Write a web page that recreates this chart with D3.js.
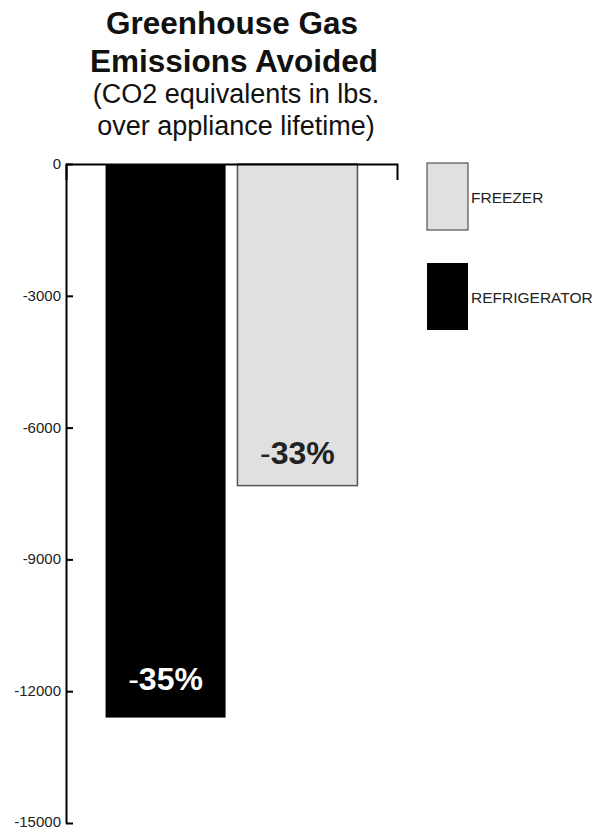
<!DOCTYPE html>
<html>
<head>
<meta charset="utf-8">
<script src="https://cdn.jsdelivr.net/npm/d3@7"></script>
<style>
  body { margin: 0; background: #fff; }
  text { font-family: "Liberation Sans", Arial, sans-serif; }
</style>
</head>
<body>
<div id="chart"></div>
<script>
// data
var categories = ["REFRIGERATOR", "FREEZER"];
var values = [-12600, -7320];
var percentLabels = ["35%", "33%"];
var fills = ["#000000", "#e0e0e0"];
var yTicks = [0, -3000, -6000, -9000, -12000, -15000];
var legendOrder = ["FREEZER", "REFRIGERATOR"];

var width = 597, height = 830;
var font = "Liberation Sans, Arial, sans-serif";

var svg = d3.select("#chart")
  .append("svg")
    .attr("width", width)
    .attr("height", height);

// title
var title = svg.append("g").attr("text-anchor", "middle").attr("fill", "#111");
title.append("text").attr("x", 232).attr("y", 34)
  .style("font-size", "31.5px").style("font-weight", "bold").text("Greenhouse Gas");
title.append("text").attr("x", 234).attr("y", 72)
  .style("font-size", "31.5px").style("font-weight", "bold").text("Emissions Avoided");
title.append("text").attr("x", 236).attr("y", 103)
  .style("font-size", "27px").text("(CO2 equivalents in lbs.");
title.append("text").attr("x", 236).attr("y", 135)
  .style("font-size", "27px").text("over appliance lifetime)");

// scales
var x = d3.scaleBand()
  .domain(categories)
  .range([66, 397])
  .paddingInner(0.09)
  .paddingOuter(0.3);

var y = d3.scaleLinear()
  .domain([0, -15000])
  .range([164, 823]);

// bars
svg.selectAll(".bar")
  .data(categories)
  .enter().append("rect")
    .attr("x", function(d) { return x(d); })
    .attr("width", x.bandwidth())
    .attr("y", y(0))
    .attr("height", function(d, i) { return y(values[i]) - y(0); })
    .attr("fill", function(d, i) { return fills[i]; })
    .attr("stroke", function(d, i) { return i == 1 ? "#555" : "none"; })
    .attr("stroke-width", 1.5);

// percent labels (minus sign in normal weight)
var pct = svg.selectAll(".pct")
  .data(categories)
  .enter().append("text")
    .attr("x", function(d) { return x(d) + x.bandwidth() / 2; })
    .attr("y", function(d, i) { return y(values[i]) - (i == 0 ? 28 : 22); })
    .attr("text-anchor", "middle")
    .style("font-size", "32px")
    .attr("fill", function(d, i) { return i == 0 ? "#fff" : "#222"; });
pct.append("tspan").text("-");
pct.append("tspan")
  .style("font-weight", "bold")
  .text(function(d, i) { return percentLabels[i]; });

// y axis, ticks pointing into the plot
var yAxis = svg.append("g")
  .attr("transform", "translate(66,0)")
  .call(d3.axisLeft(y)
    .tickValues(yTicks)
    .tickFormat(function(d) { return String(d); })
    .tickSizeInner(-7)
    .tickSizeOuter(0)
    .tickPadding(5));
yAxis.select(".domain").attr("stroke-width", 2);
yAxis.selectAll(".tick line").attr("stroke-width", 2);
yAxis.selectAll(".tick text")
  .attr("dy", function(d) { return d == -15000 ? "0.2em" : "0.3em"; })
  .style("font-size", "15px")
  .style("font-family", font)
  .attr("fill", "#222");

// top axis line with end tick
var xAxis = svg.append("g")
  .attr("transform", "translate(0," + y(0) + ")")
  .call(d3.axisTop(x).tickValues([]).tickSizeOuter(-16));
xAxis.select(".domain").attr("stroke-width", 2).attr("stroke-linejoin", "miter");

// legend
var legend = svg.selectAll(".legend")
  .data(legendOrder)
  .enter().append("g")
    .attr("transform", function(d, i) { return "translate(427," + (163 + i * 100) + ")"; });

legend.append("rect")
  .attr("width", 41)
  .attr("height", 67)
  .attr("fill", function(d) { return fills[categories.indexOf(d)]; })
  .attr("stroke", function(d) { return d == "FREEZER" ? "#333" : "none"; })
  .attr("stroke-width", 1);

legend.append("text")
  .attr("x", 44)
  .attr("y", 40)
  .style("font-size", "15.5px")
  .attr("fill", "#222")
  .text(function(d) { return d; });
</script>
</body>
</html>
